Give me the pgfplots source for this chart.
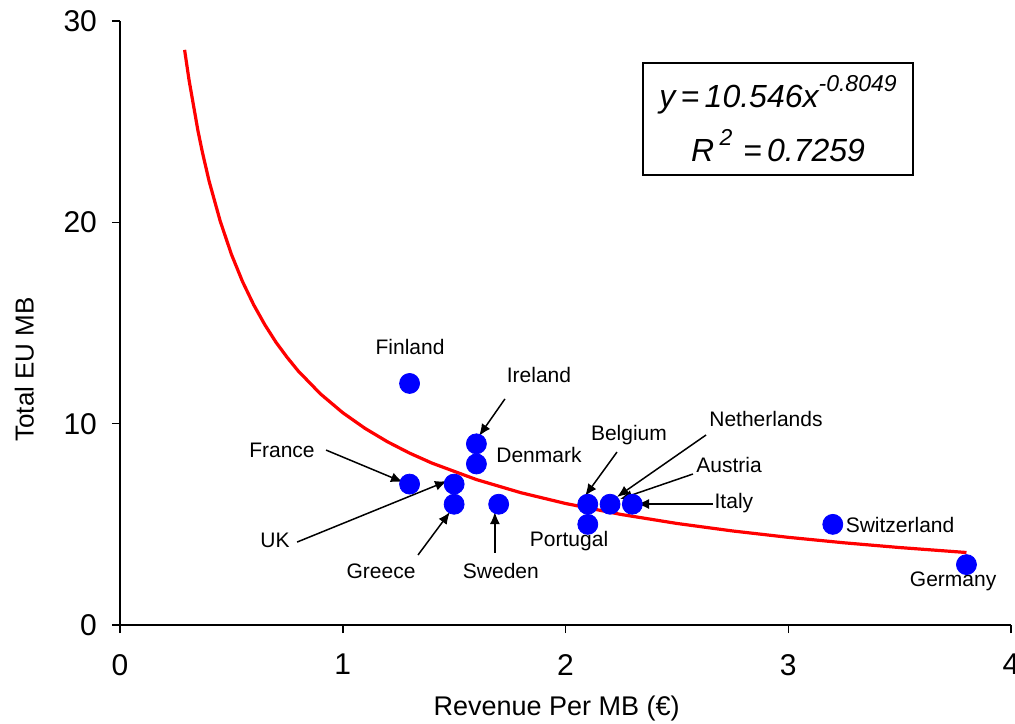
\documentclass[border=0pt]{standalone}
\usepackage{pgfplots}
\pgfplotsset{compat=1.18}
\usepackage{fontspec}
\setmainfont{Liberation Sans}
\usetikzlibrary{arrows.meta}
\begin{document}
\begin{tikzpicture}
\useasboundingbox (-60pt,-49pt) rectangle (447.5pt,312.5pt);
\clip (-60pt,-49pt) rectangle (447.5pt,312.5pt);
\begin{axis}[
  anchor=origin, at={(0,0)},
  x=111.375pt, y=10.065pt,
  xmin=0, xmax=4, ymin=0, ymax=30,
  axis lines=left,
  axis line style={-, line width=0.75pt, black},
  xtick={0,1,2,3,4}, ytick={0,10,20,30},
  tick align=outside, major tick length=4pt,
  tick style={line width=0.75pt, black},
  /pgf/number format/assume math mode=true,
  tick label style={font=\fontsize{15}{17}\selectfont},
  xticklabel style={yshift=-7pt},
  yticklabel style={xshift=-4pt},
  clip=false,
]
\addplot[red, line width=1.6pt, no markers] coordinates {
(0.29,28.57) (0.31,27.07) (0.35,24.55) (0.37,23.48) (0.40,22.05) (0.45,20.06)
(0.50,18.42) (0.55,17.06) (0.60,15.91) (0.65,14.92) (0.70,14.05) (0.75,13.30)
(0.80,12.62) (0.90,11.48) (1.00,10.546) (1.10,9.768) (1.20,9.107) (1.30,8.539)
(1.40,8.045) (1.60,7.225) (1.80,6.571) (2.00,6.037) (2.25,5.491) (2.50,5.045)
(2.75,4.672) (3.00,4.356) (3.25,4.084) (3.50,3.848) (3.80,3.601)
};
\addplot[only marks, mark=*, mark size=5pt, mark options={fill=blue, draw=blue}] coordinates {
(1.3,12) (1.6,9) (1.6,8) (1.3,7) (1.5,7) (1.5,6) (1.7,6) (2.1,6) (2.1,5)
(2.2,6) (2.3,6) (3.2,5) (3.8,3)
};
% axis labels
\node[font=\fontsize{13.5}{16}\selectfont] at (axis cs:1.96,-4.15) {Revenue Per MB (€)};
\node[font=\fontsize{13}{15}\selectfont, rotate=90] at (axis cs:-0.43,12.7) {Total EU MB};
% annotations
\begin{scope}[font=\fontsize{10.5}{12}\selectfont]
\node at (axis cs:1.302,13.81) {Finland};
\node at (axis cs:1.881,12.42) {Ireland};
\node at (axis cs:1.881,8.45) {Denmark};
\node at (axis cs:0.727,8.69) {France};
\node at (axis cs:0.696,4.22) {UK};
\node at (axis cs:1.172,2.68) {Greece};
\node at (axis cs:1.710,2.68) {Sweden};
\node at (axis cs:2.016,4.17) {Portugal};
\node at (axis cs:2.285,9.44) {Belgium};
\node at (axis cs:2.900,10.23) {Netherlands};
\node at (axis cs:2.734,7.95) {Austria};
\node at (axis cs:2.756,6.06) {Italy};
\node at (axis cs:3.502,4.97) {Switzerland};
\node at (axis cs:3.740,2.19) {Germany};
\end{scope}
\begin{scope}[line width=0.75pt, -{Latex[length=6pt,width=5pt]}]
\draw (axis cs:1.728,11.23) -- (axis cs:1.612,9.39);
\draw (axis cs:0.925,8.69) -- (axis cs:1.270,7.10);
\draw (axis cs:0.795,4.12) -- (axis cs:1.468,7.15);
\draw (axis cs:1.338,3.48) -- (axis cs:1.481,5.61);
\draw (axis cs:1.683,3.58) -- (axis cs:1.683,5.61);
\draw (axis cs:2.231,8.59) -- (axis cs:2.088,6.41);
\draw (axis cs:2.631,9.44) -- (axis cs:2.231,6.36);
\draw (axis cs:2.572,7.50) -- (axis cs:2.245,6.26);
\draw (axis cs:2.662,6.01) -- (axis cs:2.321,6.01);
\end{scope}
% equation box
\node[draw, line width=0.75pt, minimum width=135pt, minimum height=56pt, align=center,
      font=\fontsize{16}{27}\selectfont\itshape, inner sep=0pt]
  at (axis cs:2.954,25.14)
  {y\,=\,10.546x\raisebox{8pt}{\fontsize{11.5}{12}\selectfont -0.8049}\\
   R\,\raisebox{8pt}{\fontsize{11.5}{12}\selectfont 2}\,\,=\,0.7259};
\end{axis}
\end{tikzpicture}
\end{document}
